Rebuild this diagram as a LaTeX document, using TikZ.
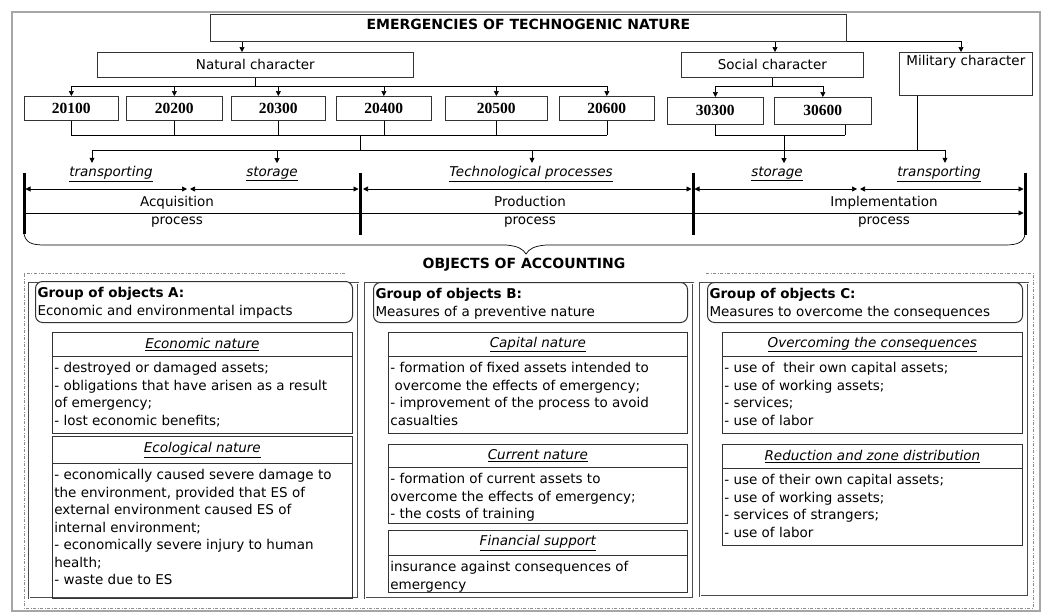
\documentclass[tikz,border=0pt]{standalone}
\usepackage{fontspec}
\setmainfont{DejaVu Sans}
\newfontfamily\numfont{Liberation Serif}
\usetikzlibrary{arrows.meta}

\newcommand{\boxtext}[3]{\parbox[c][#1][t]{#2}{\raggedright\vspace{6pt}#3}}

\begin{document}
\begin{tikzpicture}[x=1pt,y=-1pt,line width=0.7pt,
  >={Triangle[length=5pt,width=5pt]},
  every node/.style={font=\fontsize{13.5}{17.5}\selectfont},
  box/.style={draw=black!80, inner sep=0pt, anchor=north west},
  numbox/.style={box, minimum height=24pt, font=\numfont\fontsize{15.5}{17}\selectfont\bfseries},
  lbl/.style={font=\fontsize{13.5}{17.5}\selectfont\itshape},
  subhead/.style={box, minimum height=24pt, font=\fontsize{13.5}{17.5}\selectfont\itshape},
  bodybox/.style={box, inner xsep=2pt},
  grouphead/.style={box, inner xsep=2pt, fill=white, rounded corners=7pt, line width=1pt},
  bar/.style={line width=3pt},
  panel/.style={draw=black!70, double, double distance=1pt, line width=0.6pt},
  dashframe/.style={black!45, line width=0.6pt, dash pattern=on 3pt off 1.5pt on 1pt off 1.5pt}
]
\useasboundingbox (0,0) rectangle (1046,613);
\draw[black!35, line width=1.5pt] (12,12) rectangle (1040,611);

% kinds of emergencies
\node[box, minimum width=636pt, text height=12pt, text depth=9pt, inner ysep=3pt,
  font=\fontsize{14}{17}\selectfont\bfseries] (title) at (210,14) {EMERGENCIES OF TECHNOGENIC NATURE};
\node[box, minimum width=316pt, minimum height=25pt] (natural) at (97,52) {Natural character};
\node[box, minimum width=182pt, minimum height=25pt] (social) at (681,52) {Social character};
\node[box, minimum width=133pt, text height=10pt, text depth=27pt, inner ysep=3pt] (military) at (899,52) {Military character};

\draw[->] (242,0 |- title.south) -- (242,0 |- natural.north);
\draw[->] (775,0 |- title.south) -- (775,0 |- social.north);
\draw[->] (title.south east) -| (military.north -| 961,0);

% codes
\node[numbox, minimum width=94pt] (n20100) at (24,96) {20100};
\node[numbox, minimum width=96pt] (n20200) at (126,96) {20200};
\node[numbox, minimum width=94pt] (n20300) at (231,96) {20300};
\node[numbox, minimum width=95pt] (n20400) at (336,96) {20400};
\node[numbox, minimum width=102pt] (n20500) at (445,96) {20500};
\node[numbox, minimum width=95pt] (n20600) at (559,96) {20600};
\node[numbox, minimum width=96pt, minimum height=27pt] (n30300) at (667,97) {30300};
\node[numbox, minimum width=97pt, minimum height=27pt] (n30600) at (774,97) {30600};

\draw (natural.south) -- (natural.south |- 0,86) coordinate (nbus);
\draw (n20100.north |- nbus) -- (n20600.north |- nbus);
\foreach \n in {n20100,n20200,n20300,n20400,n20500,n20600}
  \draw[->] (\n.north |- nbus) -- (\n.north);

\draw (social.south) -- (social.south |- 0,86) coordinate (sbus);
\draw (n30300.north |- sbus) -- (n30600.north |- sbus);
\foreach \n in {n30300,n30600}
  \draw[->] (\n.north |- sbus) -- (\n.north);

% processes
\node[lbl] (tr1) at (111,174) {\underline{transporting}};
\node[lbl] (st1) at (272,174) {\underline{storage}};
\node[lbl] (tech) at (531,174) {\underline{Technological processes}};
\node[lbl] (st2) at (777,174) {\underline{storage}};
\node[lbl] (tr2) at (939,174) {\underline{transporting}};

\foreach \n in {n20100,n20200,n20300,n20400,n20500,n20600}
  \draw (\n.south) -- (\n.south |- 0,135);
\draw (n20100.south |- 0,135) -- (n20600.south |- 0,135);
\coordinate (pbus) at (360,150);
\draw (360,135) -- (pbus);
\draw (92,150) -- (945,150);
\draw[->] (92,150) -- (tr1.north -| 92,0);
\draw[->] (277,150) -- (st1.north -| 277,0);
\draw[->] (532,150) -- (tech.north -| 532,0);
\draw[->] (945,150) -- (tr2.north -| 945,0);

\draw (n30300.south) -- (n30300.south |- 0,135);
\draw ([xshift=22pt]n30600.south) -- ([xshift=22pt]n30600.south |- 0,135);
\draw (n30300.south |- 0,135) -- ([xshift=22pt]n30600.south |- 0,135);
\draw[->] (784,135) -- (st2.north -| 784,0);
\draw (military.south -| 917,0) -- (917,150);

\draw[bar] (24,173) -- (24,234);
\draw[bar] (360,173) -- (360,235);
\draw[bar] (693,173) -- (693,235);
\draw[bar] (1025,173) -- (1025,235);

\draw[<->] (25.5,189) -- (187,189);
\draw[<->] (190,189) -- (358.5,189);
\draw[<->] (363,189) -- (691.5,189);
\draw[<->] (694.5,189) -- (857,189);
\draw[<->] (860,189) -- (1023.5,189);
\draw[->] (25.5,213) -- (1023.5,213);

\node[align=center] (acq) at (177,212) {Acquisition\\process};
\node[align=center] (prod) at (530,212) {Production\\process};
\node[align=center] (impl) at (884,212) {Implementation\\process};

% brace
\draw (24,234) .. controls (26,243) and (32,245) .. (45,245) -- (506,245)
  .. controls (518,246) and (523,249) .. (526,254)
  .. controls (529,249) and (534,246) .. (546,245) -- (1005,245)
  .. controls (1018,245) and (1024,242) .. (1025,234);

% objects of accounting
\node[font=\fontsize{14}{17}\selectfont\bfseries] (objects) at (524,265) {OBJECTS OF ACCOUNTING};
\draw[dashframe] (345,273) -- (24,273) -- (24,608) -- (1033,608) -- (1033,273) -- (705,273);

\draw[panel] (29,283) rectangle (358,598);
\draw[panel] (365,283) rectangle (693,598);
\draw[panel] (700,283) rectangle (1028,596);

% group A
\node[grouphead] (groupA) at (35,281) {\boxtext{41pt}{313pt}{\textbf{Group of objects A:}\\Economic and environmental impacts}};
\node[subhead, minimum width=300pt] (a1head) at (52,332) {\underline{Economic nature}};
\node[bodybox] (a1body) at (52,356) {\boxtext{77pt}{296pt}{- destroyed or damaged assets;\\- obligations that have arisen as a result\\of emergency;\\- lost economic benefits;}};
\node[subhead, minimum width=300pt, minimum height=27pt] (a2head) at (52,436) {\underline{Ecological nature}};
\node[bodybox] (a2body) at (52,463) {\boxtext{135pt}{296pt}{- economically caused severe damage to\\the environment, provided that ES of\\external environment caused ES of\\internal environment;\\- economically severe injury to human\\health;\\- waste due to ES}};

% group B
\node[grouphead] (groupB) at (373,282) {\boxtext{40pt}{310pt}{\textbf{Group of objects B:}\\Measures of a preventive nature}};
\node[subhead, minimum width=299pt] (b1head) at (388,332) {\underline{Capital nature}};
\node[bodybox] (b1body) at (388,356) {\boxtext{77pt}{295pt}{- formation of fixed assets intended to\\\ overcome the effects of emergency;\\- improvement of the process to avoid\\casualties}};
\node[subhead, minimum width=299pt, minimum height=23pt] (b2head) at (388,444) {\underline{Current nature}};
\node[bodybox] (b2body) at (388,467) {\boxtext{56pt}{295pt}{- formation of current assets to\\overcome the effects of emergency;\\- the costs of training}};
\node[subhead, minimum width=299pt, minimum height=25pt] (b3head) at (388,530) {\underline{Financial support}};
\node[bodybox] (b3body) at (388,555) {\boxtext{37pt}{295pt}{insurance against consequences of\\emergency}};

% group C
\node[grouphead] (groupC) at (707,282) {\boxtext{40pt}{311pt}{\textbf{Group of objects C:}\\Measures to overcome the consequences}};
\node[subhead, minimum width=300pt] (c1head) at (722,332) {\underline{Overcoming the consequences}};
\node[bodybox] (c1body) at (722,356) {\boxtext{77pt}{296pt}{- use of\ \ their own capital assets;\\- use of working assets;\\- services;\\- use of labor}};
\node[subhead, minimum width=300pt] (c2head) at (722,444) {\underline{Reduction and zone distribution}};
\node[bodybox] (c2body) at (722,468) {\boxtext{77pt}{296pt}{- use of their own capital assets;\\- use of working assets;\\- services of strangers;\\- use of labor}};

\end{tikzpicture}
\end{document}
